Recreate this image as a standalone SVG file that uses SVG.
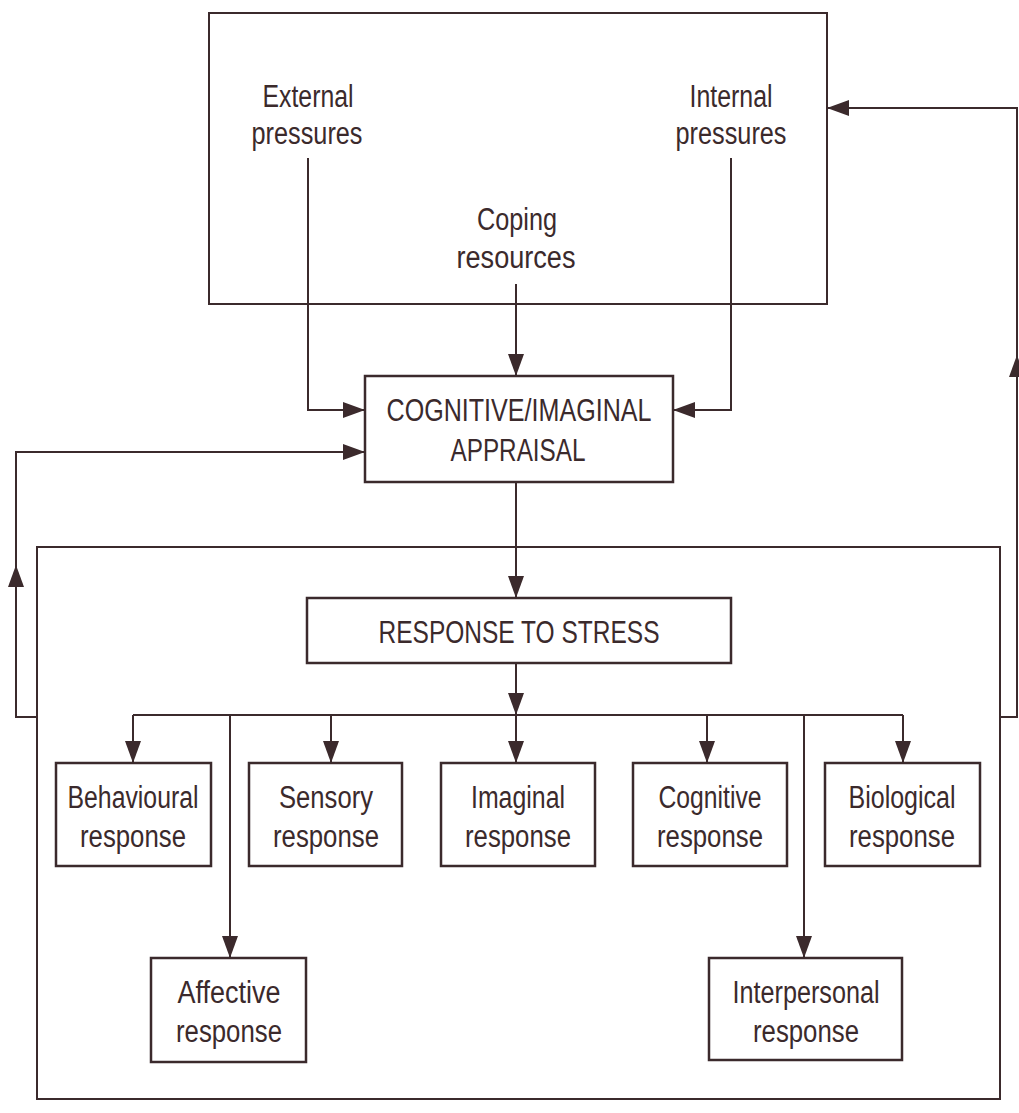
<svg xmlns="http://www.w3.org/2000/svg" width="1019" height="1113" viewBox="0 0 1019 1113">
<defs>
<marker id="ah" markerUnits="userSpaceOnUse" markerWidth="22" markerHeight="16" refX="22" refY="8" orient="auto">
<path d="M0,0 L22,8 L0,16 z" fill="#3b2a2c"/>
</marker>
<style>
.box{fill:#fff;stroke:#3b2a2c;stroke-width:2.5}
.frame{fill:none;stroke:#3b2a2c;stroke-width:2}
.ln{fill:none;stroke:#3b2a2c;stroke-width:2}
.t{font-family:"Liberation Sans",Arial,sans-serif;font-size:31px;fill:#3b2a2c;text-anchor:middle}
</style>
</defs>
<rect width="1019" height="1113" fill="#fff"/>
<g id="top-frame">
<rect class="frame" x="209" y="13" width="618" height="291"/>
</g>
<g id="bottom-frame">
<rect class="frame" x="37" y="547" width="963" height="552"/>
</g>
<g id="external">
<text class="t" x="308" y="107" textLength="91" lengthAdjust="spacingAndGlyphs">External</text>
<text class="t" x="307" y="144" textLength="111" lengthAdjust="spacingAndGlyphs">pressures</text>
</g>
<g id="internal">
<text class="t" x="731" y="107" textLength="83" lengthAdjust="spacingAndGlyphs">Internal</text>
<text class="t" x="731" y="144" textLength="111" lengthAdjust="spacingAndGlyphs">pressures</text>
</g>
<g id="coping">
<text class="t" x="517" y="230" textLength="80" lengthAdjust="spacingAndGlyphs">Coping</text>
<text class="t" x="516" y="268" textLength="119" lengthAdjust="spacingAndGlyphs">resources</text>
</g>
<g id="appraisal">
<rect class="box" x="365" y="376" width="308" height="106"/>
<text class="t" x="519" y="421" textLength="265" lengthAdjust="spacingAndGlyphs">COGNITIVE/IMAGINAL</text>
<text class="t" x="518" y="461" textLength="135" lengthAdjust="spacingAndGlyphs">APPRAISAL</text>
</g>
<g id="response">
<rect class="box" x="307" y="598" width="424" height="65"/>
<text class="t" x="519" y="643" textLength="281" lengthAdjust="spacingAndGlyphs">RESPONSE TO STRESS</text>
</g>
<g id="behavioural">
<rect class="box" x="56" y="763" width="155" height="103"/>
<text class="t" x="133" y="808" textLength="131" lengthAdjust="spacingAndGlyphs">Behavioural</text>
<text class="t" x="133" y="847" textLength="106" lengthAdjust="spacingAndGlyphs">response</text>
</g>
<g id="sensory">
<rect class="box" x="249" y="763" width="153" height="103"/>
<text class="t" x="326" y="808" textLength="94" lengthAdjust="spacingAndGlyphs">Sensory</text>
<text class="t" x="326" y="847" textLength="106" lengthAdjust="spacingAndGlyphs">response</text>
</g>
<g id="imaginal">
<rect class="box" x="441" y="763" width="154" height="103"/>
<text class="t" x="518" y="808" textLength="94" lengthAdjust="spacingAndGlyphs">Imaginal</text>
<text class="t" x="518" y="847" textLength="106" lengthAdjust="spacingAndGlyphs">response</text>
</g>
<g id="cognitive">
<rect class="box" x="633" y="763" width="154" height="103"/>
<text class="t" x="710" y="808" textLength="103" lengthAdjust="spacingAndGlyphs">Cognitive</text>
<text class="t" x="710" y="847" textLength="106" lengthAdjust="spacingAndGlyphs">response</text>
</g>
<g id="biological">
<rect class="box" x="825" y="763" width="155" height="103"/>
<text class="t" x="902" y="808" textLength="107" lengthAdjust="spacingAndGlyphs">Biological</text>
<text class="t" x="902" y="847" textLength="106" lengthAdjust="spacingAndGlyphs">response</text>
</g>
<g id="affective">
<rect class="box" x="151" y="958" width="155" height="104"/>
<text class="t" x="229" y="1003" textLength="103" lengthAdjust="spacingAndGlyphs">Affective</text>
<text class="t" x="229" y="1042" textLength="106" lengthAdjust="spacingAndGlyphs">response</text>
</g>
<g id="interpersonal">
<rect class="box" x="709" y="958" width="193" height="102"/>
<text class="t" x="806" y="1003" textLength="147" lengthAdjust="spacingAndGlyphs">Interpersonal</text>
<text class="t" x="806" y="1042" textLength="106" lengthAdjust="spacingAndGlyphs">response</text>
</g>
<g id="connectors">
<polyline class="ln" points="308,158 308,410 365,410" marker-end="url(#ah)"/>
<polyline class="ln" points="731,158 731,410 673,410" marker-end="url(#ah)"/>
<line class="ln" x1="516" y1="284" x2="516" y2="376" marker-end="url(#ah)"/>
<line class="ln" x1="516" y1="482" x2="516" y2="598" marker-end="url(#ah)"/>
<line class="ln" x1="516" y1="663" x2="516" y2="715" marker-end="url(#ah)"/>
<polyline class="ln" points="37,717 16,717 16,565"/>
<line class="ln" x1="16" y1="600" x2="16" y2="565" marker-end="url(#ah)"/>
<polyline class="ln" points="16,565 16,452 365,452" marker-end="url(#ah)"/>
<polyline class="ln" points="1000,717 1017,717 1017,355"/>
<line class="ln" x1="1017" y1="390" x2="1017" y2="355" marker-end="url(#ah)"/>
<polyline class="ln" points="1017,355 1017,108 827,108" marker-end="url(#ah)"/>
<line class="ln" x1="133" y1="715" x2="903" y2="715"/>
<line class="ln" x1="133" y1="715" x2="133" y2="763" marker-end="url(#ah)"/>
<line class="ln" x1="331" y1="715" x2="331" y2="763" marker-end="url(#ah)"/>
<line class="ln" x1="516" y1="715" x2="516" y2="763" marker-end="url(#ah)"/>
<line class="ln" x1="707" y1="715" x2="707" y2="763" marker-end="url(#ah)"/>
<line class="ln" x1="903" y1="715" x2="903" y2="763" marker-end="url(#ah)"/>
<line class="ln" x1="230" y1="715" x2="230" y2="958" marker-end="url(#ah)"/>
<line class="ln" x1="804" y1="715" x2="804" y2="958" marker-end="url(#ah)"/>
</g>
</svg>
